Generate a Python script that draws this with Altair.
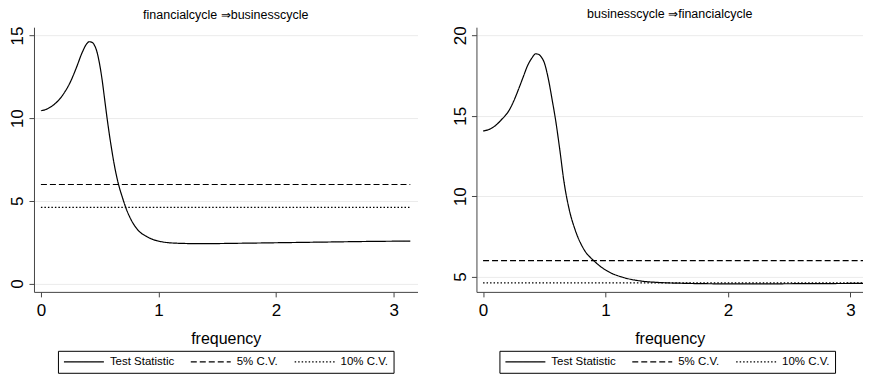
import altair as alt
import pandas as pd

# ---- data ----
series_names = ["Test Statistic", "5% C.V.", "10% C.V."]

freq_left = [0.0, 0.05, 0.1, 0.15, 0.2, 0.25, 0.3, 0.35, 0.39, 0.41, 0.43, 0.453, 0.475, 0.495,
             0.52, 0.544, 0.566, 0.595, 0.629, 0.66, 0.694, 0.722, 0.765, 0.82, 0.906, 1.02,
             1.16, 1.3, 1.44, 1.7, 2.0, 2.4, 2.8, 3.1416]
stat_left = [10.45, 10.55, 10.76, 11.08, 11.55, 12.18, 13.02, 13.95, 14.5, 14.62, 14.6, 14.44, 14.05, 13.43,
             12.35, 11.03, 9.83, 8.42, 7.0, 6.0, 5.19, 4.59, 3.89, 3.28, 2.82, 2.54,
             2.44, 2.42, 2.42, 2.44, 2.47, 2.51, 2.55, 2.57]

freq_right = [0.0, 0.05, 0.1, 0.15, 0.21, 0.25, 0.29, 0.33, 0.36, 0.4, 0.43, 0.46, 0.48, 0.5,
              0.53, 0.566, 0.593, 0.628, 0.66, 0.7, 0.755, 0.823, 0.905, 1.014, 1.149,
              1.285, 1.448, 1.6, 1.8, 2.0, 2.3, 2.6, 2.9, 3.1416]
stat_right = [14.05, 14.15, 14.38, 14.75, 15.3, 15.9, 16.65, 17.45, 18.05, 18.6, 18.85, 18.78, 18.6, 18.3,
              17.4, 15.91, 14.7, 12.81, 10.94, 9.29, 7.84, 6.7, 5.98, 5.35, 4.94,
              4.73, 4.63, 4.59, 4.56, 4.55, 4.55, 4.56, 4.57, 4.58]

cv_freq = [0.0, 3.1416]
cv5 = 5.99
cv10 = 4.61

x_ticks = [0, 1, 2, 3]
y_ticks_left = [0, 5, 10, 15]
y_ticks_right = [5, 10, 15, 20]

FONT = "Liberation Sans, Arial, sans-serif"


def make_df(freq, stat):
    rows = [{"frequency": f, "value": s, "series": "Test Statistic"} for f, s in zip(freq, stat)]
    rows += [{"frequency": f, "value": cv5, "series": "5% C.V."} for f in cv_freq]
    rows += [{"frequency": f, "value": cv10, "series": "10% C.V."} for f in cv_freq]
    return pd.DataFrame(rows)


def panel(df, title, xdom, ydom, yvals, w, h, legend_x):
    return alt.Chart(
        df,
        title=alt.TitleParams(title, fontSize=12.5, font=FONT, fontWeight="normal",
                              anchor="middle", color="black", offset=5),
    ).mark_line(color="black", strokeWidth=1.2, interpolate="monotone", clip=True).encode(
        x=alt.X("frequency:Q",
                scale=alt.Scale(domain=xdom, nice=False, zero=False),
                axis=alt.Axis(values=x_ticks, title="frequency", grid=False, format="d",
                              labelFontSize=17, labelFont=FONT, labelColor="black",
                              labelPadding=6, tickSize=5, titleFontSize=16, titleFont=FONT,
                              titleFontWeight="normal", titleColor="black", titlePadding=12,
                              domainColor="#444", tickColor="#444")),
        y=alt.Y("value:Q",
                scale=alt.Scale(domain=ydom, nice=False, zero=False),
                axis=alt.Axis(values=yvals, title=None, grid=True, gridColor="#ebebeb",
                              labelAngle=270, labelAlign="center", labelBaseline="bottom",
                              labelFontSize=17, labelFont=FONT, labelColor="black",
                              labelPadding=2, tickSize=5, format="d",
                              domainColor="#444", tickColor="#444")),
        strokeDash=alt.StrokeDash(
            "series:N",
            scale=alt.Scale(domain=series_names, range=[[1, 0], [6, 3], [1.5, 2]]),
            legend=alt.Legend(title=None, orient="none", legendX=legend_x, legendY=324,
                              direction="horizontal",
                              symbolType="stroke", symbolSize=1600, clipHeight=12,
                              symbolStrokeColor="black", symbolStrokeWidth=1.2,
                              labelFontSize=11.5, labelFont=FONT,
                              labelColor="black", labelOffset=5, columnPadding=15,
                              strokeColor="black", padding=5),
        ),
    ).properties(width=w, height=h)


left = panel(make_df(freq_left, stat_left), "financialcycle \u21d2businesscycle",
             [-0.059, 3.203], [-0.5, 15.5], y_ticks_left, 384, 265, 24)
right = panel(make_df(freq_right, stat_right), "businesscycle \u21d2financialcycle",
              [-0.054, 3.103], [4.05, 20.5], y_ticks_right, 387, 265, 23)

chart = alt.hconcat(left, right, spacing=34).resolve_legend(
    strokeDash="independent"
).resolve_scale(strokeDash="independent").configure_view(strokeWidth=0).properties(
    padding={"left": 1, "top": 0, "right": 0, "bottom": 0}
)

chart.save("out.html", embed_options={"renderer": "svg", "actions": False})
